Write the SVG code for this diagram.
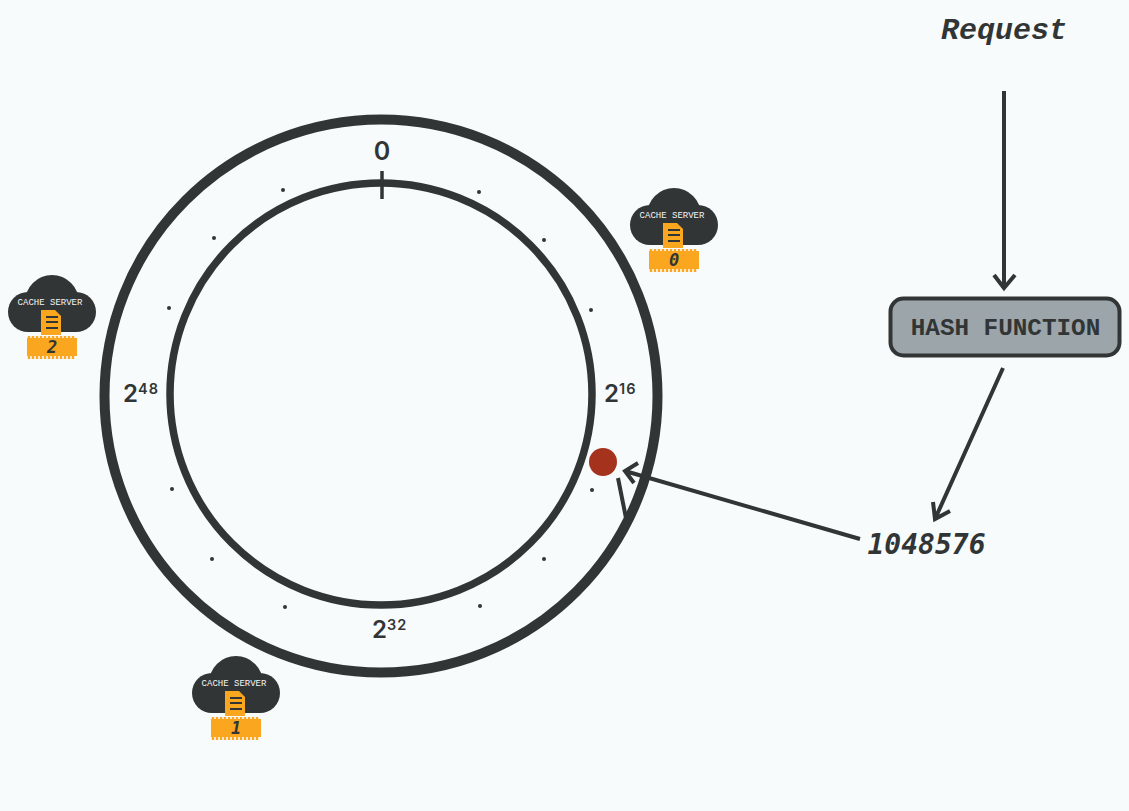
<svg xmlns="http://www.w3.org/2000/svg" width="1129" height="811" viewBox="0 0 1129 811">
<style>
.ln{fill:none;stroke:#323535;stroke-linecap:butt}
.dot{fill:#323535}
.sans{font-family:"Inter","DejaVu Sans",sans-serif;fill:#323535;font-weight:600}
.mono{font-family:"Liberation Mono",monospace;fill:#323535;font-weight:700}
.dv{font-family:"DejaVu Sans Mono",monospace;fill:#323535;font-weight:700;font-style:italic}
.lm{font-family:"Liberation Mono",monospace;fill:#323535;font-weight:700;font-style:italic}
.cl{font-family:"Liberation Mono",monospace;font-size:9px;fill:#f4f4f4;font-weight:400;text-anchor:middle}
.cloud{fill:#323535}
.org{fill:#fba61f}
</style>
<defs>
<g id="server">
<circle class="cloud" cx="0" cy="-1" r="27"/>
<circle class="cloud" cx="-24" cy="9" r="20"/>
<circle class="cloud" cx="24" cy="9" r="20"/>
<rect class="cloud" x="-24" y="9" width="48" height="20"/>
<path class="org" d="M-11 7 H3 L9 13 V32 H-11 Z"/>
<path d="M-6 14 H6 M-6 19 H6 M-6 25 H6" stroke="#323535" stroke-width="1.8" fill="none"/>
<rect class="org" x="-25" y="35" width="50" height="18"/>
<path d="M-23 35 v-2 M-19 35 v-2 M-15 35 v-2 M-11 35 v-2 M-7 35 v-2 M-3 35 v-2 M1 35 v-2 M5 35 v-2 M9 35 v-2 M13 35 v-2 M17 35 v-2 M21 35 v-2 M-23 53 v3 M-19 53 v3 M-15 53 v3 M-11 53 v3 M-7 53 v3 M-3 53 v3 M1 53 v3 M5 53 v3 M9 53 v3 M13 53 v3 M17 53 v3 M21 53 v3" stroke="#fba61f" stroke-width="2.400" fill="none"/>
<text class="cl" x="-2" y="2">CACHE SERVER</text>
</g>
</defs>
<rect width="1129" height="811" fill="#f7fbfc"/>
<g id="outer-ring"><circle class="ln" cx="381" cy="396" r="276.500" stroke-width="10"/></g>
<g id="inner-ring"><circle class="ln" cx="381" cy="394" r="211" stroke-width="7.500"/></g>
<g id="ticks">
<line class="ln" x1="382" y1="171" x2="382" y2="199" stroke-width="3.500"/>
<circle class="dot" cx="283" cy="190" r="2"/><circle class="dot" cx="479" cy="192" r="2"/>
<circle class="dot" cx="214" cy="238" r="2"/><circle class="dot" cx="544" cy="240" r="2"/>
<circle class="dot" cx="169" cy="308" r="2"/><circle class="dot" cx="591" cy="310" r="2"/>
<circle class="dot" cx="172" cy="489" r="2"/><circle class="dot" cx="592" cy="490" r="2"/>
<circle class="dot" cx="212" cy="559" r="2"/><circle class="dot" cx="544" cy="559" r="2"/>
<circle class="dot" cx="285" cy="607" r="2"/><circle class="dot" cx="480" cy="606" r="2"/>
</g>
<g id="ring-labels">
<text class="sans" x="382" y="160" font-size="25" text-anchor="middle">0</text>
<text class="sans" x="604" y="402" font-size="24">2</text><text class="sans" x="619" y="394" font-size="14.500" letter-spacing="1">16</text>
<text class="sans" x="123" y="402" font-size="24">2</text><text class="sans" x="138" y="394" font-size="14.500" letter-spacing="1">48</text>
<text class="sans" x="372" y="638" font-size="24">2</text><text class="sans" x="387" y="630" font-size="14.500" letter-spacing="1">32</text>
</g>
<g id="server-0"><use href="#server" x="674" y="216"/><text class="dv" x="674" y="266" font-size="17" text-anchor="middle">0</text></g>
<g id="server-1"><use href="#server" x="236" y="684"/><text class="dv" x="236" y="734" font-size="17" text-anchor="middle">1</text></g>
<g id="server-2"><use href="#server" x="52" y="303"/><text class="dv" x="52" y="353" font-size="17" text-anchor="middle">2</text></g>
<g id="hash-function">
<rect x="890.500" y="298.500" width="229" height="57" rx="13" fill="#9ca5aa" stroke="#323535" stroke-width="4"/>
<text class="mono" x="1005.500" y="335" font-size="24.300" text-anchor="middle">HASH FUNCTION</text>
</g>
<g id="request"><text class="lm" x="1004" y="39" font-size="30" text-anchor="middle">Request</text></g>
<g id="value"><text class="dv" x="926.500" y="554" font-size="28" text-anchor="middle">1048576</text></g>
<g id="marker"><circle cx="603" cy="462" r="14" fill="#a5321c"/></g>
<g id="connectors">
<path class="ln" stroke-width="4" d="M1004 91 V288 M994 275 L1004 288 L1015 275"/>
<path class="ln" stroke-width="4" d="M1003 368 L935 519 M933 502 L935 519 L950 511"/>
<path class="ln" stroke-width="4" d="M860 539 L625 471 M638 463 L625 471 L634 483"/>
<path class="ln" stroke-width="4" d="M618 478 L626 518"/>
</g>
</svg>
